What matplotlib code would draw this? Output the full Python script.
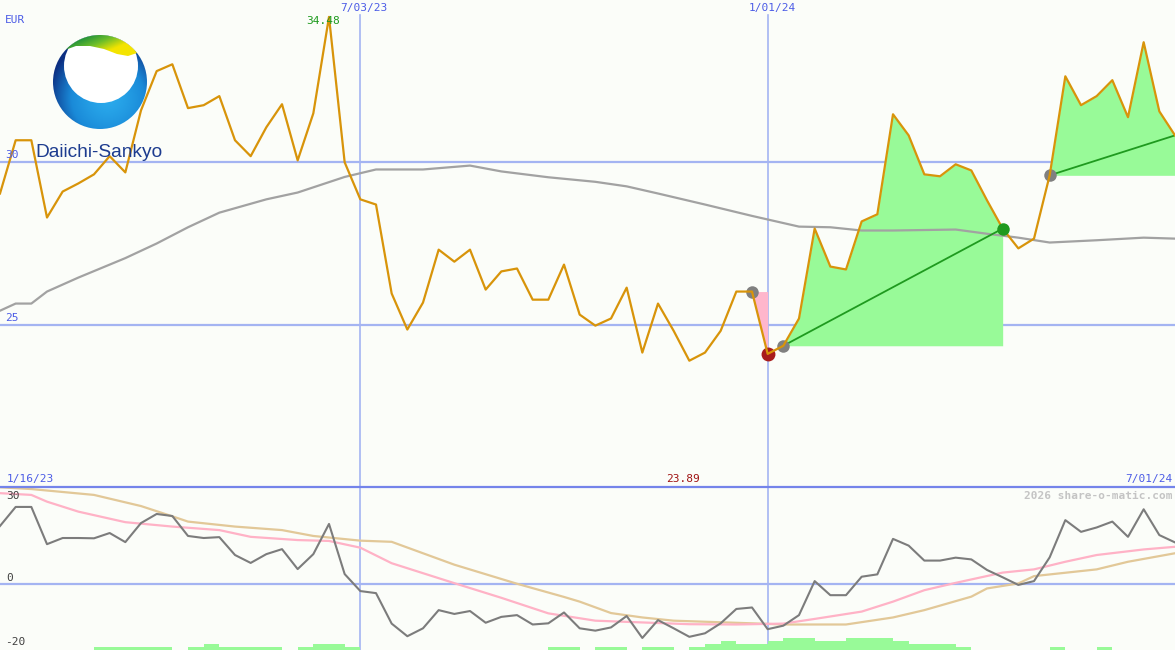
import matplotlib
matplotlib.use('Agg')
import matplotlib.pyplot as plt
from matplotlib.patches import Circle, Polygon
from matplotlib.colors import LinearSegmentedColormap
import numpy as np
import pandas as pd

# weekly closes in EUR, first week 23 Jan 2023
close = [29.04, 30.68, 30.68, 28.30, 29.10, 29.35, 29.63, 30.19, 29.69, 31.60,
         32.81, 33.02, 31.67, 31.76, 32.04, 30.68, 30.19, 31.08, 31.79, 30.06,
         31.51, 34.48, 30.00, 28.86, 28.70, 25.96, 24.85, 25.68, 27.31, 26.94,
         27.31, 26.08, 26.64, 26.73, 25.77, 25.77, 26.85, 25.31, 24.97, 25.19,
         26.14, 24.14, 25.65, 24.81, 23.89, 24.14, 24.81, 26.02, 26.02, 24.10,
         24.35, 25.19, 27.96, 26.79, 26.70, 28.18, 28.40, 31.48, 30.83, 29.63,
         29.57, 29.94, 29.75, 28.83, 27.96, 27.35, 27.65, 29.60, 32.65, 31.76,
         32.04, 32.53, 31.39, 33.70, 31.57, 30.83]
dates = pd.date_range('2023-01-23', periods=len(close), freq='7D')

# long moving average (week index, value)
ma_wk = [0, 1, 2, 3, 5, 8, 10, 12, 14, 17, 19, 22, 24, 27, 30, 32, 35, 38, 40,
         42, 45, 48, 51, 53, 55, 57, 61, 63, 65, 67, 70, 73, 75]
ma_val = [25.43, 25.65, 25.65, 26.02, 26.45, 27.05, 27.50, 28.00, 28.45, 28.86,
          29.07, 29.55, 29.78, 29.78, 29.90, 29.72, 29.54, 29.40, 29.26, 29.04,
          28.70, 28.35, 28.02, 28.00, 27.90, 27.90, 27.93, 27.80, 27.68, 27.53,
          27.60, 27.68, 27.65]

# lower panel: momentum line, two smoothed lines, signal bars
momentum = [19.7, 26.2, 26.2, 13.5, 15.6, 15.6, 15.5, 17.3, 14.2, 20.7,
            23.8, 23.1, 16.3, 15.6, 15.9, 9.8, 7.1, 10.1, 11.8, 5.0,
            10.1, 20.4, 3.3, -2.5, -3.2, -13.6, -17.9, -15.2, -9.0, -10.3,
            -9.3, -13.3, -11.3, -10.7, -13.9, -13.5, -9.8, -15.2, -16.0, -14.9,
            -11.0, -18.5, -12.4, -15.2, -18.1, -16.9, -13.5, -8.6, -8.1, -15.5,
            -14.3, -10.7, 0.9, -3.9, -3.9, 2.4, 3.2, 15.3, 13.0, 7.9,
            7.9, 8.9, 8.3, 4.7, 2.2, -0.4, 0.9, 9.0, 21.7, 17.7,
            19.2, 21.2, 16.0, 25.4, 16.6, 14.1]
pink_wk = [0, 2, 3, 5, 8, 11, 14, 16, 19, 21, 23, 25, 29, 32, 35, 38, 40, 44,
           47, 50, 52, 55, 57, 59, 61, 64, 66, 68, 70, 73, 75]
pink_val = [30.9, 30.3, 28.0, 24.6, 21.0, 19.5, 18.3, 16.0, 14.9, 14.6, 12.3,
            7.0, 0.2, -4.8, -10.1, -12.6, -13.0, -13.8, -13.9, -13.6, -12.0,
            -9.5, -6.1, -2.2, 0.3, 3.8, 4.9, 7.5, 9.8, 11.7, 12.6]
tan_wk = [0, 2, 6, 9, 11, 12, 15, 18, 20, 23, 25, 29, 33, 36, 37, 39, 41, 43,
          48, 50, 54, 57, 59, 62, 63, 65, 66, 70, 72, 75]
tan_val = [32.9, 32.3, 30.3, 26.5, 23.0, 21.2, 19.5, 18.3, 16.3, 14.7, 14.3,
           6.5, 0.0, -4.5, -6.1, -10.0, -11.5, -12.6, -13.5, -13.9, -13.9,
           -11.5, -9.0, -4.4, -1.6, 0.1, 2.6, 4.9, 7.5, 10.4]
bars = [0, 0, 0, 0, 0, 0, 1, 1, 1, 1,
        1, 0, 1, 2, 1, 1, 1, 1, 0, 1,
        2, 2, 1, 0, 0, 0, 0, 0, 0, 0,
        0, 0, 0, 0, 0, 1, 1, 0, 1, 1,
        0, 1, 1, 0, 1, 2, 3, 2, 2, 3,
        4, 4, 3, 3, 4, 4, 4, 3, 2, 2,
        2, 1, 0, 0, 0, 0, 0, 1, 0, 0,
        1, 0, 0, 0, 0, 0]

# trades (week indices)
loss_from, loss_to = 48, 49
trade_in = [50, 67]
trade_out = [64, 75]

grid_dates = ['2023-07-03', '2024-01-01']
x_end = '2024-07-01'

BG = '#fbfdf9'
GRID = '#a4b4f2'
LBL = '#4c5ce6'
MONO = 'DejaVu Sans Mono'

fig = plt.figure(figsize=(11.75, 6.5), dpi=100)
fig.patch.set_facecolor(BG)
ax = fig.add_axes([0, 163 / 650, 1, 487 / 650])
axm = fig.add_axes([0, 0, 1, 163 / 650])
for a in (ax, axm):
    a.set_facecolor(BG)
    for s in a.spines.values():
        s.set_visible(False)
    a.set_xticks([])
    a.set_yticks([])
    a.set_xlim(dates[0], pd.Timestamp(x_end))

wk = lambda w: dates[0] + pd.to_timedelta(np.array(w) * 7, unit='D')

# ---- price panel ----
ax.set_ylim(20, 35)
for lv in (25, 30):
    ax.axhline(lv, color=GRID, lw=1.6, zorder=1)
for d in grid_dates:
    ax.axvline(pd.Timestamp(d), ymax=(34.54 - 20) / 15, color=GRID, lw=1.2, zorder=1)

ax.fill_between(dates[loss_from:loss_to + 1], close[loss_from:loss_to + 1],
                close[loss_from], color='#ffb6cc', lw=0, zorder=2)
for a_, b_ in zip(trade_in, trade_out):
    ax.fill_between(dates[a_:b_ + 1], close[a_:b_ + 1], close[a_],
                    color='#98fa98', lw=0, zorder=2)
ax.plot(wk(ma_wk), ma_val, color='#a2a2a2', lw=1.6, zorder=3)
for a_, b_ in zip(trade_in, trade_out):
    ax.plot([dates[a_], dates[b_]], [close[a_], close[b_]], color='#1f9a1f', lw=1.3, zorder=4)

for i in [loss_from] + trade_in:
    ax.plot(dates[i], close[i], 'o', ms=9, color='#808080', mec='none', zorder=4)
ax.plot(dates[loss_to], close[loss_to], 'o', ms=10, color='#a81c1c', mec='none', zorder=4)
ax.plot(dates, close, color='#d8940a', lw=1.6, zorder=5)
ax.plot(dates[trade_out[0]], close[trade_out[0]], 'o', ms=9, color='#1f9a1f', mec='none', zorder=6)

# ---- indicator panel ----
axm.set_ylim(-22.6, 33.0)
axm.axhline(0, color=GRID, lw=1.6, zorder=1)
for d in grid_dates:
    axm.axvline(pd.Timestamp(d), color=GRID, lw=1.2, zorder=1)
axm.bar(dates, bars, width=7, align='edge', bottom=-22.6, color='#98fa98', lw=0, zorder=2)
axm.plot(wk(tan_wk), tan_val, color='#e2c898', lw=1.6, zorder=3)
axm.plot(wk(pink_wk), pink_val, color='#ffb2c6', lw=1.6, zorder=3)
axm.plot(dates, momentum, color='#7c7c7c', lw=1.5, zorder=4)

# ---- overlay in pixel coordinates: labels and logo ----
ov = fig.add_axes([0, 0, 1, 1])
ov.patch.set_alpha(0)
ov.axis('off')

ov.axhline(487, color='#7484ea', lw=1.6)
fs = 8
ov.text(5, 20, 'EUR', color=LBL, family=MONO, size=fs, va='center')
ov.text(5, 155, '30', color=LBL, family=MONO, size=fs, va='center')
ov.text(5, 318, '25', color=LBL, family=MONO, size=fs, va='center')
ov.text(364, 8, '7/03/23', color=LBL, family=MONO, size=fs, va='center', ha='center')
ov.text(772, 8, '1/01/24', color=LBL, family=MONO, size=fs, va='center', ha='center')
ov.text(323, 21, f'{max(close):.2f}', color='#1c9a1c', family=MONO, size=fs, va='center', ha='center')
ov.text(7, 479, '1/16/23', color=LBL, family=MONO, size=fs, va='center')
ov.text(683, 479, f'{min(close):.2f}', color='#a01414', family=MONO, size=fs, va='center', ha='center')
ov.text(1172, 479, '7/01/24', color=LBL, family=MONO, size=fs, va='center', ha='right')
ov.text(1172, 496, '2026 share-o-matic.com', color='#c4c4c4', family=MONO, size=fs,
        weight='bold', va='center', ha='right')
ov.text(6, 496, '30', color='#404040', family=MONO, size=fs, va='center')
ov.text(6, 578, '0', color='#404040', family=MONO, size=fs, va='center')
ov.text(5, 642, '-20', color='#404040', family=MONO, size=fs, va='center')

# logo
cx, cy, r = 100, 82, 47
yy, xx = np.mgrid[cy - r:cy + r:200j, cx - r:cx + r:200j]
shade = np.clip(np.hypot(xx - 108, yy - 98) / 60, 0, 1) ** 1.4
blues = LinearSegmentedColormap.from_list('lb', ['#2aaaec', '#1a8ad8', '#0c2f82'])
im = ov.imshow(shade, cmap=blues, extent=(cx - r, cx + r, cy + r, cy - r),
               origin='upper', zorder=10, interpolation='bilinear')
im.set_clip_path(Circle((cx, cy), r, transform=ov.transData))
hole = Circle((101, 66), 37, fc='white', ec='none', zorder=11)
ov.add_patch(hole)
hole.set_clip_path(Circle((cx, cy), r, transform=ov.transData))

arc_x = np.linspace(66, 137, 40)
arc_y = cy - np.sqrt(r ** 2 - (arc_x - cx) ** 2)
low = [(137, 53), (128, 56), (117, 54), (104, 49), (90, 46), (76, 46), (66, 49.6)]
band = Polygon(list(zip(arc_x, arc_y)) + low, closed=True, transform=ov.transData)
gy, gx = np.mgrid[30:60:100j, 55:150:200j]
gshade = np.clip((gx - 75) / 60 + (gy - 40) / 25, 0, 1)
greens = LinearSegmentedColormap.from_list('lg', ['#1c8e3c', '#6cbe2a', '#f4e400'])
gim = ov.imshow(gshade, cmap=greens, extent=(55, 150, 60, 30), origin='upper',
                zorder=12, interpolation='bilinear')
gim.set_clip_path(band)
ov.text(35, 157, 'Daiichi-Sankyo', family='Liberation Sans', size=13.8,
        color='#1d3c8f', va='baseline', zorder=13)

ov.set_aspect('auto')
ov.set_xlim(0, 1175)
ov.set_ylim(650, 0)

fig.savefig('out.png', dpi=100, facecolor=BG)
